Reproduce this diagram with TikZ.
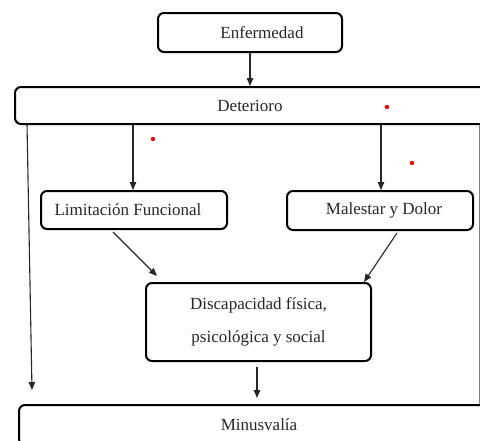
\documentclass[tikz,border=0pt]{standalone}
\usepackage{fontspec}
\setmainfont{Liberation Serif}
\usetikzlibrary{arrows.meta,calc}
\begin{document}
\begin{tikzpicture}[x=1pt,y=-1pt,
  box/.style={draw=black, line width=2pt, rounded corners=6pt, inner sep=0pt,
    font=\fontsize{17}{20}\selectfont, text=black!85},
  conn/.style={draw=black!85, line width=1.1pt, -{Triangle[length=8pt,width=6.5pt]}},
  reddot/.style={fill=red, draw=none}]
\useasboundingbox (0,0) rectangle (480,440);
\clip (0,0) rectangle (480,440);
\node[box, minimum width=184pt, minimum height=39pt] (enf) at (250,32.5) {\hspace*{24pt}Enfermedad};
\node[box, anchor=west, minimum height=37pt] (det) at (14,105.5) {\makebox[470pt]{Deterioro}\hspace*{40pt}};
\node[box, minimum width=186pt, minimum height=38pt] (lim) at (134,210) {Limitación Funcional\hspace*{12pt}};
\node[box, minimum width=186pt, minimum height=39pt] (mal) at (380,210.5) {\hspace*{8pt}Malestar y Dolor};
\node[box, minimum width=225pt, minimum height=78pt, align=center, font=\fontsize{17}{33}\selectfont] (dis) at (258.5,322) {Discapacidad física,\\psicológica y social};
\node[box, anchor=north west, minimum height=40pt] (min) at (18,404) {\makebox[480pt]{Minusvalía}\hspace*{40pt}};
\coordinate (l1) at (27,124);
\coordinate (l2) at (32,390);
\coordinate (a1) at (113,232);
\coordinate (a2) at (157,276);
\coordinate (b1) at (397,233);
\coordinate (b2) at (364,282);
\coordinate (rx) at (479,0);
\draw[conn] (enf.south) -- (enf.south |- det.north);
\draw[conn] (det.south -| 133,0) -- (lim.north -| 133,0);
\draw[conn] (det.south -| 381,0) -- (mal.north -| 381,0);
\draw[conn] (a1) -- (a2);
\draw[conn] (b1) -- (b2);
\draw[conn] ($(dis.south)+(-1.5,5)$) -- ($(min.north -| dis.south)+(-1.5,-6)$);
\draw[conn] (l1) -- (l2);
\draw[draw=black!50, line width=0.8pt] (det.south -| rx) -- (min.north -| rx);
\fill[reddot] (387,107) circle (2.2pt);
\fill[reddot] (153,139) circle (2.2pt);
\fill[reddot] (412,163) circle (2.2pt);
\end{tikzpicture}
\end{document}
